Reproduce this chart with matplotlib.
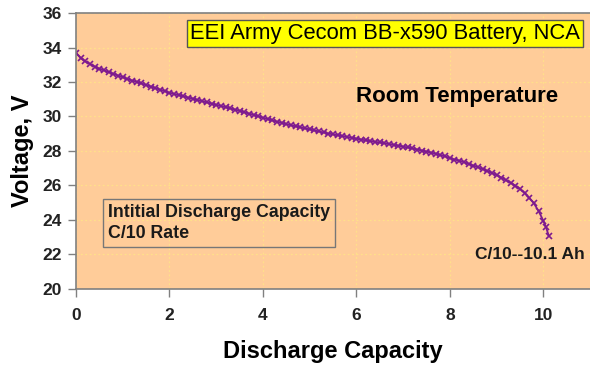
import matplotlib
matplotlib.use("Agg")
import matplotlib.pyplot as plt

plt.rcParams['font.family'] = ['Liberation Sans', 'DejaVu Sans']

capacity = [0.0, 0.1, 0.2, 0.3, 0.4, 0.5, 0.6, 0.7, 0.8, 0.9,
            1.0, 1.1, 1.2, 1.3, 1.4, 1.5, 1.6, 1.7, 1.8, 1.9,
            2.0, 2.1, 2.2, 2.3, 2.4, 2.5, 2.6, 2.7, 2.8, 2.9,
            3.0, 3.1, 3.2, 3.3, 3.4, 3.5, 3.6, 3.7, 3.8, 3.9,
            4.0, 4.1, 4.2, 4.3, 4.4, 4.5, 4.6, 4.7, 4.8, 4.9,
            5.0, 5.1, 5.2, 5.3, 5.4, 5.5, 5.6, 5.7, 5.8, 5.9,
            6.0, 6.1, 6.2, 6.3, 6.4, 6.5, 6.6, 6.7, 6.8, 6.9,
            7.0, 7.1, 7.2, 7.3, 7.4, 7.5, 7.6, 7.7, 7.8, 7.9,
            8.0, 8.1, 8.2, 8.3, 8.4, 8.5, 8.6, 8.7, 8.8, 8.9,
            9.0, 9.1, 9.2, 9.3, 9.4, 9.5, 9.6, 9.7, 9.8, 9.9,
            10.0, 10.06, 10.12]
voltage = [33.70, 33.40, 33.20, 33.05, 32.90, 32.78, 32.68, 32.58, 32.48, 32.38,
           32.28, 32.18, 32.09, 32.01, 31.92, 31.83, 31.74, 31.65, 31.56, 31.47,
           31.38, 31.31, 31.24, 31.17, 31.10, 31.03, 30.96, 30.89, 30.82, 30.75,
           30.68, 30.61, 30.54, 30.47, 30.40, 30.33, 30.25, 30.17, 30.09, 30.01,
           29.93, 29.85, 29.77, 29.70, 29.63, 29.56, 29.49, 29.43, 29.37, 29.31,
           29.25, 29.19, 29.13, 29.07, 29.01, 28.96, 28.91, 28.86, 28.81, 28.76,
           28.71, 28.66, 28.61, 28.57, 28.53, 28.49, 28.45, 28.40, 28.35, 28.30,
           28.25, 28.20, 28.14, 28.08, 28.02, 27.96, 27.90, 27.83, 27.76, 27.68,
           27.58, 27.50, 27.43, 27.35, 27.25, 27.15, 27.05, 26.95, 26.84, 26.72,
           26.60, 26.45, 26.30, 26.15, 25.98, 25.80, 25.55, 25.28, 24.95, 24.50,
           23.95, 23.55, 23.05]

x_ticks = [0, 2, 4, 6, 8, 10]
y_ticks = [20, 22, 24, 26, 28, 30, 32, 34, 36]

fig = plt.figure(figsize=(5.9, 3.66), dpi=100)
ax = fig.add_axes([0.1288, 0.2117, 0.8712, 0.752])
ax.set_facecolor('#FFCC99')

ax.plot(capacity, voltage, color='#7E1A8E', lw=1.3, marker='x', ms=5, mew=1.2)

ax.set_xlim(0, 11.0)
ax.set_ylim(20, 36)
ax.set_xticks(x_ticks)
ax.set_yticks(y_ticks)
ax.grid(True, color='#FFE08A', linestyle=(0, (1.5, 2)), linewidth=0.9)
ax.set_axisbelow(True)

for s in ['left', 'bottom', 'top']:
    ax.spines[s].set_color('#808080')
    ax.spines[s].set_linewidth(1.2)
ax.spines['right'].set_visible(False)
ax.tick_params(axis='both', direction='out', length=6, width=1.0, color='#808080',
               labelsize=12.5, pad=4)
ax.tick_params(axis='x', pad=8)
for lab in ax.get_xticklabels() + ax.get_yticklabels():
    lab.set_fontweight('bold')
    lab.set_color('#222222')

ax.set_xlabel('Discharge Capacity', fontsize=17, fontweight='bold', labelpad=12)
ax.set_ylabel('Voltage, V', fontsize=17, fontweight='bold', labelpad=6)

ax.text(0.9805, 0.927, 'EEI Army Cecom BB-x590 Battery, NCA', transform=ax.transAxes,
        ha='right', va='center', fontsize=15.8,
        bbox=dict(boxstyle='square,pad=0.12', facecolor='#FFFF00', edgecolor='#555555', lw=1.0))
ax.text(0.741, 0.696, 'Room Temperature', transform=ax.transAxes, ha='center', va='center',
        fontsize=16, fontweight='bold')
ax.text(0.0623, 0.238, 'Intitial Discharge Capacity\nC/10 Rate', transform=ax.transAxes,
        ha='left', va='center', fontsize=12.8, fontweight='bold', linespacing=1.3,
        color='#1a1a1a',
        bbox=dict(boxstyle='square,pad=0.3', facecolor='none', edgecolor='#777777', lw=1.0))
ax.text(0.776, 0.125, 'C/10--10.1 Ah', transform=ax.transAxes, ha='left', va='center',
        fontsize=12.5, fontweight='bold', color='#1a1a1a')

fig.savefig('out.png', dpi=100)
